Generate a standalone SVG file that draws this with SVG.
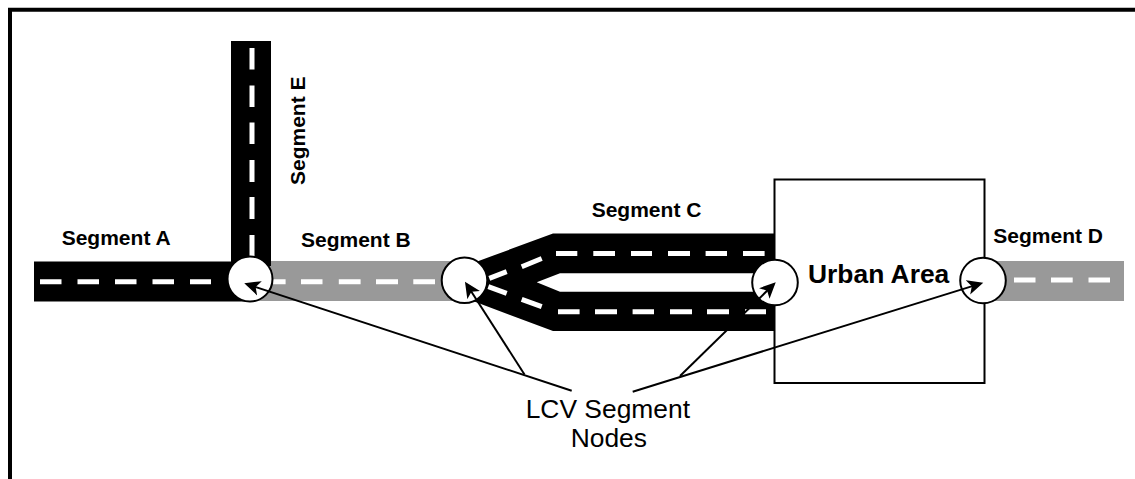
<svg xmlns="http://www.w3.org/2000/svg" width="1135" height="479" viewBox="0 0 1135 479">
<style>
.bg{fill:#fff}
.blk{fill:#000}
.gry{fill:#999}
.dash{fill:none;stroke:#fff;stroke-width:5}
.node{fill:#fff;stroke:#000;stroke-width:2}
.ptr{fill:none;stroke:#000;stroke-width:2;marker-end:url(#ah)}
.lbl{font-family:"Liberation Sans",Arial,sans-serif;font-weight:bold;font-size:21px;fill:#000}
.big{font-family:"Liberation Sans",Arial,sans-serif;font-size:26.4px;fill:#000}
</style>
<defs>
<marker id="ah" markerUnits="userSpaceOnUse" markerWidth="20" markerHeight="16" refX="13" refY="8" orient="auto" viewBox="0 0 20 16">
<path d="M16,8 L0,0.5 L4,8 L0,15.5 Z" fill="#000"/>
</marker>
</defs>
<rect class="bg" width="1135" height="479"/>
<path id="frame" d="M10,479 V9.7 H1135" fill="none" stroke="#000" stroke-width="4"/>
<g id="urban-area">
<rect x="774.5" y="179.5" width="210" height="203.5" fill="#fff" stroke="#000" stroke-width="2"/>
</g>
<g id="segment-b">
<rect class="gry" x="250" y="261" width="215" height="40"/>
<path class="dash" d="M263.8,281.8H285.6M301,281.8H322.5M338.8,281.8H360.6M376,281.8H398M413.3,281.8H435"/>
</g>
<g id="segment-d">
<rect class="gry" x="984" y="261" width="140" height="40"/>
<path class="dash" d="M1014,280H1035.5M1051,280H1072.7M1088.5,280H1110"/>
</g>
<g id="segment-a">
<rect class="blk" x="34" y="261.5" width="216" height="40"/>
<path class="dash" d="M40,281.8H61.5M77.5,281.8H99M115,281.8H136.5M152.5,281.8H174M190,281.8H211"/>
</g>
<g id="segment-e">
<rect class="blk" x="231" y="41" width="40" height="225"/>
<path class="dash" d="M252,48V69.5M252,85.5V107M252,122.5V144M252,160V182M252,197V219M252,235V256.5"/>
</g>
<g id="segment-c">
<path class="blk" d="M465,266 L553,233.5 H775 V273.3 H560 L536.7,282.3 L560,291.7 H775 V331 H553 L465,298 Z"/>
<path class="dash" d="M489.3,278.3L506.7,271.7M521.7,266.7L541.7,258.5M556,253.6H577.3M593.3,253.6H615M631,253.6H652M668,253.6H690M705.6,253.6H727M743,253.6H764.6"/>
<path class="dash" d="M488.3,286.7L506.7,293.3M521.7,299.3L541.7,306.7M558,311.8H579.6M595,311.8H617M632.6,311.8H654M670,311.8H692M707,311.8H729M745,311.8H766"/>
</g>
<g id="node-1"><circle class="node" cx="250" cy="279" r="22.5"/></g>
<g id="node-2"><circle class="node" cx="464.5" cy="280.3" r="22.8"/></g>
<g id="node-3"><circle class="node" cx="775" cy="282.5" r="22.8"/></g>
<g id="node-4"><circle class="node" cx="983" cy="280.5" r="22.8"/></g>
<g id="connectors">
<line class="ptr" x1="571.7" y1="390.7" x2="247.1" y2="284.2"/>
<line class="ptr" x1="524.5" y1="374.5" x2="466.6" y2="284.2"/>
<line class="ptr" x1="680" y1="376" x2="773.6" y2="284.4"/>
<line class="ptr" x1="632.7" y1="391.7" x2="980.4" y2="283.6"/>
</g>
<g id="labels">
<text class="lbl" x="61.7" y="245">Segment A</text>
<text class="lbl" x="301" y="246.7">Segment B</text>
<text class="lbl" x="591.7" y="216.7">Segment C</text>
<text class="lbl" x="993.3" y="242.7">Segment D</text>
<text class="lbl" transform="translate(305 185) rotate(-90)">Segment E</text>
<text class="big" style="font-weight:bold" x="808" y="282.7">Urban Area</text>
<text class="big" x="525.7" y="418">LCV Segment</text>
<text class="big" x="570.7" y="447.3">Nodes</text>
</g>
</svg>
